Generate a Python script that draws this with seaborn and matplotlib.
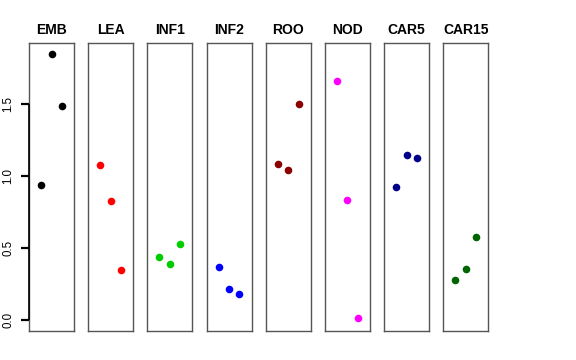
import matplotlib
matplotlib.use("Agg")
import matplotlib.pyplot as plt
import seaborn as sns
import pandas as pd

plt.rcParams['font.family'] = ['Liberation Sans', 'DejaVu Sans']
plt.rcParams['axes.edgecolor'] = '#555555'

groups = ["EMB", "LEA", "INF1", "INF2", "ROO", "NOD", "CAR5", "CAR15"]
colors = ["#000000", "#FF0000", "#00CD00", "#0000FF", "#8B0000", "#FF00FF", "#00008B", "#006400"]
replicate = [1, 2, 3]
values = {
    "EMB":   [0.937, 1.852, 1.488],
    "LEA":   [1.076, 0.825, 0.350],
    "INF1":  [0.436, 0.387, 0.529],
    "INF2":  [0.366, 0.213, 0.183],
    "ROO":   [1.087, 1.045, 1.500],
    "NOD":   [1.660, 0.832, 0.014],
    "CAR5":  [0.927, 1.145, 1.124],
    "CAR15": [0.278, 0.355, 0.575],
}
yticks = [0.0, 0.5, 1.0, 1.5]
ytick_labels = ["0.0", "0.5", "1.0", "1.5"]

fig, axes = plt.subplots(1, 8, figsize=(5.76, 3.6), dpi=100)
fig.subplots_adjust(left=29/576, right=488.3/576, top=1-43.3/360, bottom=1-331/360, wspace=0.315)

for ax, g, c in zip(axes, groups, colors):
    df = pd.DataFrame({"x": replicate, "y": values[g]})
    sns.scatterplot(data=df, x="x", y="y", ax=ax, color=c, s=30, edgecolor=c, linewidth=0)
    ax.set_xlim(-0.16, 4.16)
    ax.set_ylim(-0.0765, 1.924)
    ax.set_xticks([])
    ax.set_xlabel("")
    ax.set_ylabel("")
    ax.set_title(g, fontsize=10, fontweight="bold", pad=6.5, color="black")
    for sp in ax.spines.values():
        sp.set_visible(True)
        sp.set_color("#555555")
        sp.set_linewidth(1.0)
    if ax is not axes[0]:
        ax.set_yticks([])

ax0 = axes[0]
ax0.set_yticks(yticks)
ax0.set_yticklabels(ytick_labels, rotation=90, va="center", fontsize=8.3, color="black")
ax0.tick_params(axis="y", left=True, labelleft=True, length=0, pad=10.5)
# axis line and tick marks (axes-fraction x, data y)
ytr = ax0.get_yaxis_transform()
tick_len = 8.0 / 45.0
ax0.hlines(yticks, -tick_len, 0, transform=ytr, color="black",
           linewidth=1.6, clip_on=False, zorder=5)
ax0.vlines(0, yticks[0], yticks[-1], transform=ytr, color="black",
           linewidth=1.2, clip_on=False, zorder=5)

fig.savefig("out.png", dpi=100)
